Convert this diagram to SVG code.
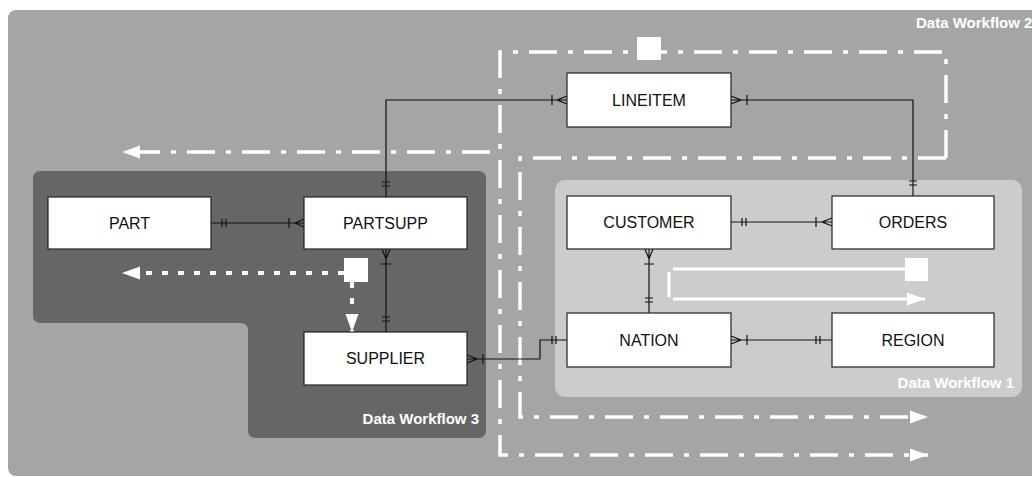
<svg xmlns="http://www.w3.org/2000/svg" width="1032" height="477" viewBox="0 0 1032 477">
<defs>
<style>
.node rect{fill:#fff;stroke:#222;stroke-width:1.2}
.node text{font-family:"Liberation Sans",Arial,sans-serif;font-size:16px;fill:#111;text-anchor:middle}
.lbl{font-family:"Liberation Sans",Arial,sans-serif;font-size:15px;font-weight:bold;fill:#fff}
.er{fill:none;stroke:#111;stroke-width:1.2}
.dd{fill:none;stroke:#fff;stroke-width:3.5;stroke-dasharray:28 11 5 11}
.dot{fill:none;stroke:#fff;stroke-width:4;stroke-dasharray:6 10}
.sol{fill:none;stroke:#fff;stroke-width:3}
.sq{fill:#fff}
</style>
<marker id="ah" markerUnits="userSpaceOnUse" markerWidth="20" markerHeight="16" viewBox="-18 -8 20 16" refX="0" refY="0" orient="auto">
<path d="M0,0 L-18,-6.5 L-18,6.5 Z" fill="#fff"/>
</marker>
</defs>
<rect x="8" y="10" width="1040" height="466" rx="8" fill="#a5a5a5"/>
<g id="wf3-region">
<path d="M41,171 H478 Q486,171 486,179 V430 Q486,438 478,438 H256 Q248,438 248,430 V331 Q248,323 240,323 H41 Q33,323 33,315 V179 Q33,171 41,171 Z" fill="#666"/>
<text class="lbl" x="479" y="424" text-anchor="end">Data Workflow 3</text>
</g>
<g id="wf1-region">
<rect x="555" y="180" width="467" height="217" rx="10" fill="#ccc"/>
<text class="lbl" x="1014" y="388" text-anchor="end">Data Workflow 1</text>
</g>
<text class="lbl" x="916" y="28">Data Workflow 2</text>
<g id="flows">
<path class="dd" d="M946,158 V52 H500 V455 H928" marker-end="url(#ah)"/>
<path class="dd" d="M946,158 H520 V417 H928" marker-end="url(#ah)"/>
<path class="dd" d="M490,152 H122" marker-end="url(#ah)"/>
<rect class="sq" x="637" y="37" width="24" height="23"/>
<path class="dot" d="M344,273 H122" marker-end="url(#ah)"/>
<path class="dot" d="M352,282 V332" marker-end="url(#ah)"/>
<rect class="sq" x="344" y="258" width="24" height="24"/>
<path class="sol" d="M905,269 H673 M669,272 V297 M673,299 H925" marker-end="url(#ah)"/>
<rect class="sq" x="905" y="258" width="23" height="23"/>
</g>
<g id="connectors">
<path class="er" d="M567,100 H386 V197 M567,96 L557,100 L567,104 M552,95 V105 M382,182 H390 M382,186 H390"/>
<path class="er" d="M731,100 H913 V196 M731,96 L741,100 L731,104 M747,95 V105 M909,181 H917 M909,185 H917"/>
<path class="er" d="M211,223 H304 M222,219 V227 M226,219 V227 M304,219 L295,223 L304,227 M289,218 V228"/>
<path class="er" d="M386,249 V332 M382,249 L386,259 L390,249 M381,264 H391 M382,317 H390 M382,321 H390"/>
<path class="er" d="M467,359 H540 V340 H567 M467,355 L477,359 L467,363 M483,354 V364 M552,336 V344 M556,336 V344"/>
<path class="er" d="M731,222 H832 M742,218 V226 M746,218 V226 M832,218 L822,222 L832,226 M816,217 V227"/>
<path class="er" d="M649,249 V313 M645,249 L649,259 L653,249 M644,264 H654 M645,298 H653 M645,302 H653"/>
<path class="er" d="M731,340 H832 M731,336 L741,340 L731,344 M747,335 V345 M816,336 V344 M820,336 V344"/>
</g>
<g id="LINEITEM" class="node"><rect x="567" y="73" width="164" height="54"/><text x="649" y="106">LINEITEM</text></g>
<g id="PART" class="node"><rect x="48" y="197" width="163" height="52"/><text x="129.5" y="229">PART</text></g>
<g id="PARTSUPP" class="node"><rect x="304" y="197" width="163" height="52"/><text x="385.5" y="229">PARTSUPP</text></g>
<g id="SUPPLIER" class="node"><rect x="304" y="332" width="163" height="53"/><text x="385.5" y="364">SUPPLIER</text></g>
<g id="CUSTOMER" class="node"><rect x="567" y="196" width="164" height="53"/><text x="649" y="228">CUSTOMER</text></g>
<g id="ORDERS" class="node"><rect x="832" y="196" width="162" height="53"/><text x="913" y="228">ORDERS</text></g>
<g id="NATION" class="node"><rect x="567" y="313" width="164" height="54"/><text x="649" y="346">NATION</text></g>
<g id="REGION" class="node"><rect x="832" y="313" width="162" height="54"/><text x="913" y="346">REGION</text></g>
</svg>
